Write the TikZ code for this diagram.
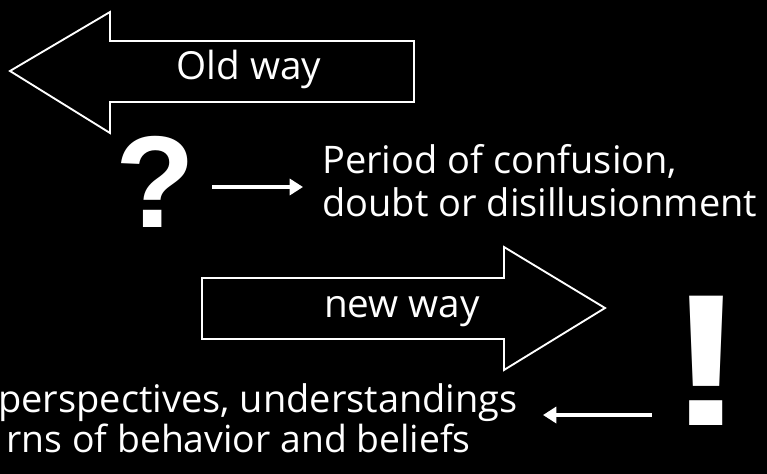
\documentclass[tikz,border=0pt]{standalone}
\usepackage{fontspec}
\setmainfont{Open Sans}
\newfontfamily\bangfont{Liberation Sans}
\usetikzlibrary{arrows.meta,calc,positioning}

\tikzset{
  wayarrow/.style={draw=white, line width=1.4pt, line join=miter},
  waytext/.style={text=white, inner sep=0pt, font=\fontsize{29}{34}\selectfont},
  note/.style={text=white, inner sep=0pt, font=\fontsize{28.5}{34}\selectfont},
  bang/.style={text=white, inner sep=0pt, font=\bangfont\bfseries},
  pointer/.style={draw=white, line width=3pt, -{Triangle[length=10pt,width=12pt]}},
}

\begin{document}
\begin{tikzpicture}[x=0.75pt, y=-0.75pt]
  \useasboundingbox (0,0) rectangle (767,474);
  \fill[black] (0,0) rectangle (767,474);
  \clip (0,0) rectangle (767,474);

  % old way, pointing left
  \draw[wayarrow] (10,71) -- (110,12) -- (110,41) -- (414,41) -- (414,102)
    -- (110,102) -- (110,133) -- cycle;
  \node[waytext, anchor=base] (oldway) at (249,80) {Old way};

  % new way, pointing right
  \draw[wayarrow] (605,308) -- (504,247) -- (504,278) -- (202,278) -- (202,339)
    -- (504,339) -- (504,370) -- cycle;
  \node[waytext, anchor=base] (newway) at (402,317) {new way};

  % question mark and its note
  \node[bang, anchor=base, font=\bangfont\bfseries\fontsize{98}{98}\selectfont] (qmark) at (155,227) {?};
  \node[note, anchor=base west] (confusion) at (322,174) {Period of confusion,};
  \node[note, anchor=base west] (doubt) at (322,216) {doubt or disillusionment};
  \draw[pointer] ($(qmark.base east)+(17,-40)$) -- ($(confusion.base west)+(-19,13)$);

  % exclamation mark and its note
  \node[bang, anchor=base, font=\bangfont\bfseries\fontsize{141}{141}\selectfont] (emark) at (707,425) {\scalebox{1.25}[1]{!}};
  \node[note, anchor=base east] (persp) at (518,412) {perspectives, understandings};
  \node[note, anchor=base east, font=\fontsize{28}{34}\selectfont] (patterns) at (471,452) {rns of behavior and beliefs};
  \draw[pointer] ($(emark.base west)+(-16,-10)$) -- ($(persp.base east)+(25,3)$);
\end{tikzpicture}
\end{document}
